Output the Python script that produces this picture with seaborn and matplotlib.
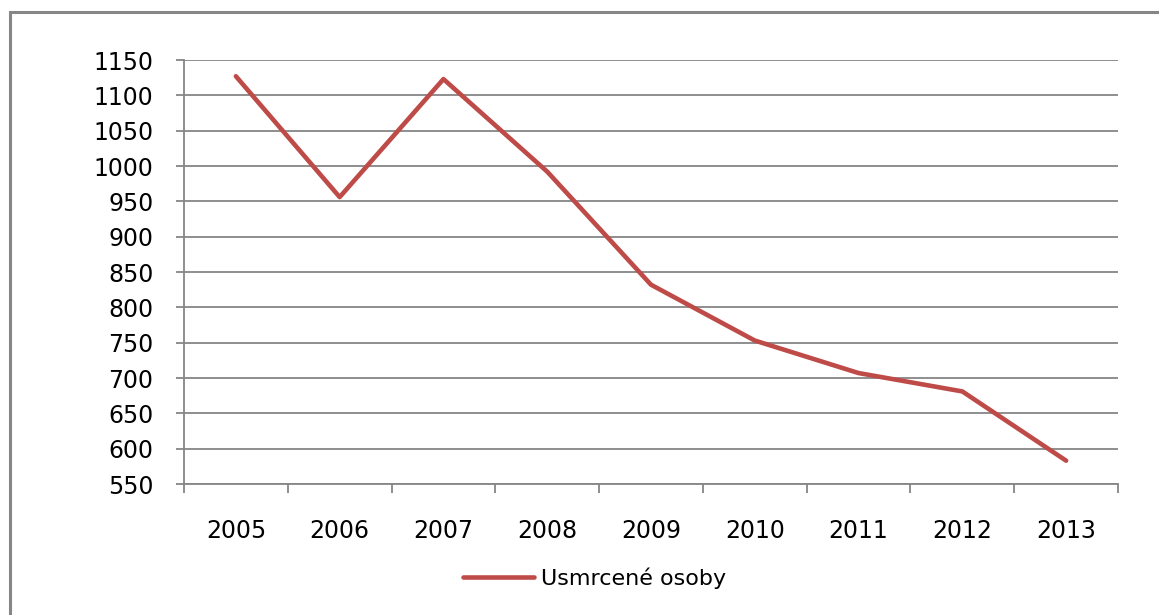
import matplotlib
matplotlib.use("Agg")
import matplotlib.pyplot as plt
import seaborn as sns
import numpy as np
import pandas as pd
from matplotlib.patches import Rectangle
from matplotlib.lines import Line2D

years = ["2005", "2006", "2007", "2008", "2009", "2010", "2011", "2012", "2013"]
killed = [1127, 956, 1123, 992, 832, 753, 707, 681, 583]
series_name = "Usmrcené osoby"
y_ticks = [550, 600, 650, 700, 750, 800, 850, 900, 950, 1000, 1050, 1100, 1150]

sns.set_theme(style="white")
plt.rcParams['font.family'] = ['DejaVu Sans']
plt.rcParams['text.color'] = 'black'

df = pd.DataFrame({"pos": np.arange(len(years)), "value": killed, "series": series_name})

fig = plt.figure(figsize=(11.59, 6.15), dpi=100)
ax = fig.add_axes([184/1159, 1 - 484/615, (1118-184)/1159, (484-60)/615])

grey = "#868686"
red = "#BE4B48"

sns.lineplot(data=df, x="pos", y="value", ax=ax, color=red, linewidth=3.3, legend=False)

ax.set_xlim(-0.5, len(years) - 0.5)
ax.set_ylim(550, 1150)
ax.set_yticks(y_ticks)
ax.set_yticklabels([str(t) for t in y_ticks], fontsize=17, color="black")
ax.yaxis.grid(True, color=grey, linewidth=1.3)
ax.xaxis.grid(False)

ax.set_xticks(np.arange(-0.5, len(years), 1))
ax.set_xticklabels([""] * (len(years) + 1))
ax.set_xticks(np.arange(len(years)), minor=True)
ax.set_xticklabels(years, minor=True, fontsize=17, color="black")
ax.tick_params(axis="x", which="major", direction="out", length=6.5, width=1.3, color=grey, bottom=True)
ax.tick_params(axis="x", which="minor", length=0, pad=25, bottom=True)
ax.tick_params(axis="y", direction="out", length=6, width=1.3, color=grey, pad=16, left=True)

for side in ["top", "right"]:
    ax.spines[side].set_visible(False)
for side in ["left", "bottom"]:
    ax.spines[side].set_color(grey)
    ax.spines[side].set_linewidth(1.3)
ax.set_xlabel("")
ax.set_ylabel("")

handle = Line2D([0], [0], color=red, linewidth=3.3)
leg = fig.legend([handle], [series_name], loc="center", bbox_to_anchor=(594.5/1159, 1 - 578/615),
                 frameon=False, fontsize=16, handlelength=3.2, handletextpad=0.3)
for t in leg.get_texts():
    t.set_color("black")

fig.add_artist(Rectangle((9.5/1159, -0.1), 1.2, 1 - 12.5/615 + 0.1, transform=fig.transFigure,
                         fill=False, edgecolor=grey, linewidth=2.2))

fig.savefig("out.png", dpi=100)
